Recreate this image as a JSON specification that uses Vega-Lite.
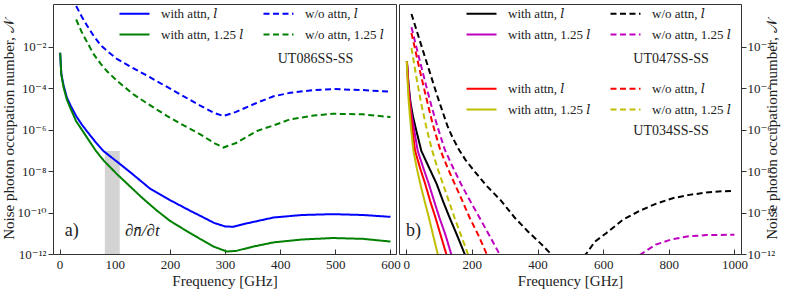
{
  "$schema": "https://vega.github.io/schema/vega-lite/v6.json",
  "padding": {"left": 0, "top": 3, "right": 3, "bottom": 2},
  "config": {
    "font": "Liberation Serif, DejaVu Serif, serif",
    "view": {"stroke": "#333", "strokeWidth": 1},
    "axis": {"domain": false, "grid": false, "labelFont": "Liberation Serif, DejaVu Serif, serif", "titleFont": "Liberation Serif, DejaVu Serif, serif", "labelFontSize": 13, "titleFontSize": 15, "titleFontWeight": "normal", "labelColor": "#222", "titleColor": "#222", "tickColor": "#333", "labelOverlap": false, "labelFlush": false},
    "legend": {"labelFont": "Liberation Serif, DejaVu Serif, serif", "labelFontSize": 13, "labelColor": "#222"},
    "text": {"font": "Liberation Serif, DejaVu Serif, serif"}
  },
  "datasets": {
    "curves": [
      {"g":"a","s":"A","f":1,"v":5.01e-3},{"g":"a","s":"A","f":3,"v":5.01e-4},{"g":"a","s":"A","f":7,"v":1.41e-4},{"g":"a","s":"A","f":13,"v":3.55e-5},{"g":"a","s":"A","f":20,"v":1.41e-5},{"g":"a","s":"A","f":30,"v":4.47e-6},{"g":"a","s":"A","f":40,"v":1.78e-6},{"g":"a","s":"A","f":50,"v":7.94e-7},{"g":"a","s":"A","f":65,"v":2.51e-7},{"g":"a","s":"A","f":80,"v":8.91e-8},{"g":"a","s":"A","f":104,"v":2.82e-8},{"g":"a","s":"A","f":130,"v":7.94e-9},{"g":"a","s":"A","f":164,"v":1.41e-9},{"g":"a","s":"A","f":200,"v":3.98e-10},{"g":"a","s":"A","f":237,"v":1.2e-10},{"g":"a","s":"A","f":255,"v":6.92e-11},{"g":"a","s":"A","f":280,"v":3.16e-11},{"g":"a","s":"A","f":300,"v":2.14e-11},{"g":"a","s":"A","f":315,"v":2.04e-11},{"g":"a","s":"A","f":340,"v":3.02e-11},{"g":"a","s":"A","f":388,"v":5.75e-11},{"g":"a","s":"A","f":440,"v":7.59e-11},{"g":"a","s":"A","f":496,"v":8.32e-11},{"g":"a","s":"A","f":550,"v":7.59e-11},{"g":"a","s":"A","f":600,"v":6.17e-11},
      {"g":"a","s":"C","f":1,"v":5.01e-3},{"g":"a","s":"C","f":3,"v":4.47e-4},{"g":"a","s":"C","f":7,"v":1.12e-4},{"g":"a","s":"C","f":13,"v":2.82e-5},{"g":"a","s":"C","f":20,"v":1e-5},{"g":"a","s":"C","f":30,"v":2.51e-6},{"g":"a","s":"C","f":40,"v":1e-6},{"g":"a","s":"C","f":50,"v":3.98e-7},{"g":"a","s":"C","f":65,"v":1e-7},{"g":"a","s":"C","f":80,"v":3.16e-8},{"g":"a","s":"C","f":104,"v":7.08e-9},{"g":"a","s":"C","f":130,"v":1.58e-9},{"g":"a","s":"C","f":150,"v":5.01e-10},{"g":"a","s":"C","f":176,"v":1.26e-10},{"g":"a","s":"C","f":200,"v":3.98e-11},{"g":"a","s":"C","f":237,"v":1e-11},{"g":"a","s":"C","f":255,"v":5.25e-12},{"g":"a","s":"C","f":280,"v":2.24e-12},{"g":"a","s":"C","f":303,"v":1.32e-12},{"g":"a","s":"C","f":320,"v":1.41e-12},{"g":"a","s":"C","f":350,"v":2.24e-12},{"g":"a","s":"C","f":388,"v":3.63e-12},{"g":"a","s":"C","f":440,"v":5.01e-12},{"g":"a","s":"C","f":496,"v":5.89e-12},{"g":"a","s":"C","f":550,"v":5.37e-12},{"g":"a","s":"C","f":600,"v":3.98e-12},
      {"g":"a","s":"B","f":30,"v":0.891},{"g":"a","s":"B","f":40,"v":0.282},{"g":"a","s":"B","f":50,"v":0.1},{"g":"a","s":"B","f":62,"v":3.16e-2},{"g":"a","s":"B","f":75,"v":1.12e-2},{"g":"a","s":"B","f":90,"v":5.01e-3},{"g":"a","s":"B","f":104,"v":2.51e-3},{"g":"a","s":"B","f":134,"v":8.91e-4},{"g":"a","s":"B","f":165,"v":3.16e-4},{"g":"a","s":"B","f":195,"v":1.12e-4},{"g":"a","s":"B","f":225,"v":3.98e-5},{"g":"a","s":"B","f":255,"v":1.41e-5},{"g":"a","s":"B","f":280,"v":6.31e-6},{"g":"a","s":"B","f":297,"v":4.47e-6},{"g":"a","s":"B","f":320,"v":7.08e-6},{"g":"a","s":"B","f":358,"v":1.95e-5},{"g":"a","s":"B","f":388,"v":3.98e-5},{"g":"a","s":"B","f":418,"v":5.89e-5},{"g":"a","s":"B","f":460,"v":7.94e-5},{"g":"a","s":"B","f":496,"v":8.91e-5},{"g":"a","s":"B","f":550,"v":7.94e-5},{"g":"a","s":"B","f":600,"v":6.61e-5},
      {"g":"a","s":"D","f":30,"v":0.2},{"g":"a","s":"D","f":40,"v":5.01e-2},{"g":"a","s":"D","f":50,"v":1.58e-2},{"g":"a","s":"D","f":62,"v":4.17e-3},{"g":"a","s":"D","f":75,"v":1.41e-3},{"g":"a","s":"D","f":86,"v":6.46e-4},{"g":"a","s":"D","f":104,"v":2.24e-4},{"g":"a","s":"D","f":134,"v":4.9e-5},{"g":"a","s":"D","f":165,"v":1.41e-5},{"g":"a","s":"D","f":195,"v":4.47e-6},{"g":"a","s":"D","f":225,"v":1.58e-6},{"g":"a","s":"D","f":255,"v":5.89e-7},{"g":"a","s":"D","f":280,"v":2.24e-7},{"g":"a","s":"D","f":297,"v":1.35e-7},{"g":"a","s":"D","f":320,"v":2.24e-7},{"g":"a","s":"D","f":358,"v":8.51e-7},{"g":"a","s":"D","f":388,"v":1.58e-6},{"g":"a","s":"D","f":418,"v":3.09e-6},{"g":"a","s":"D","f":460,"v":4.68e-6},{"g":"a","s":"D","f":496,"v":5.75e-6},{"g":"a","s":"D","f":550,"v":5.37e-6},{"g":"a","s":"D","f":600,"v":3.98e-6},

      {"g":"b047","s":"A","f":2,"v":2.0e-3},{"g":"b047","s":"A","f":7,"v":1.58e-4},{"g":"b047","s":"A","f":13,"v":2.0e-5},{"g":"b047","s":"A","f":21,"v":3.98e-6},{"g":"b047","s":"A","f":30,"v":1e-6},{"g":"b047","s":"A","f":46,"v":9.33e-8},{"g":"b047","s":"A","f":70,"v":1.41e-8},{"g":"b047","s":"A","f":93,"v":2.34e-9},{"g":"b047","s":"A","f":112,"v":3.55e-10},{"g":"b047","s":"A","f":132,"v":5.75e-11},{"g":"b047","s":"A","f":155,"v":7.94e-12},{"g":"b047","s":"A","f":178,"v":1e-12},{"g":"b047","s":"A","f":185,"v":5.01e-13},
      {"g":"b047","s":"C","f":2,"v":2.0e-3},{"g":"b047","s":"C","f":6,"v":2.0e-4},{"g":"b047","s":"C","f":11,"v":2.51e-5},{"g":"b047","s":"C","f":17,"v":4.47e-6},{"g":"b047","s":"C","f":24,"v":1e-6},{"g":"b047","s":"C","f":35,"v":9.33e-8},{"g":"b047","s":"C","f":52,"v":1.41e-8},{"g":"b047","s":"C","f":69,"v":2.34e-9},{"g":"b047","s":"C","f":85,"v":3.55e-10},{"g":"b047","s":"C","f":101,"v":5.75e-11},{"g":"b047","s":"C","f":120,"v":7.94e-12},{"g":"b047","s":"C","f":137,"v":1e-12},{"g":"b047","s":"C","f":143,"v":5.01e-13},
      {"g":"b047","s":"B","f":16,"v":0.372},{"g":"b047","s":"B","f":40,"v":2.24e-2},{"g":"b047","s":"B","f":70,"v":7.08e-4},{"g":"b047","s":"B","f":95,"v":3.98e-5},{"g":"b047","s":"B","f":110,"v":7.94e-6},{"g":"b047","s":"B","f":125,"v":1.58e-6},{"g":"b047","s":"B","f":140,"v":4.47e-7},{"g":"b047","s":"B","f":160,"v":1.12e-7},{"g":"b047","s":"B","f":180,"v":3.55e-8},{"g":"b047","s":"B","f":210,"v":8.91e-9},{"g":"b047","s":"B","f":244,"v":2.0e-9},{"g":"b047","s":"B","f":290,"v":3.55e-10},{"g":"b047","s":"B","f":330,"v":5.75e-11},{"g":"b047","s":"B","f":370,"v":1.26e-11},{"g":"b047","s":"B","f":410,"v":3.16e-12},{"g":"b047","s":"B","f":441,"v":1e-12},{"g":"b047","s":"B","f":495,"v":2.51e-13},{"g":"b047","s":"B","f":548,"v":1e-12},{"g":"b047","s":"B","f":575,"v":3.98e-12},{"g":"b047","s":"B","f":609,"v":1e-11},{"g":"b047","s":"B","f":660,"v":4.47e-11},{"g":"b047","s":"B","f":711,"v":1.2e-10},{"g":"b047","s":"B","f":762,"v":2.69e-10},{"g":"b047","s":"B","f":812,"v":4.9e-10},{"g":"b047","s":"B","f":863,"v":7.08e-10},{"g":"b047","s":"B","f":914,"v":9.12e-10},{"g":"b047","s":"B","f":960,"v":1.05e-9},{"g":"b047","s":"B","f":1000,"v":1.1e-9},
      {"g":"b047","s":"D","f":16,"v":8.51e-2},{"g":"b047","s":"D","f":40,"v":2.51e-3},{"g":"b047","s":"D","f":60,"v":1.41e-4},{"g":"b047","s":"D","f":80,"v":8.91e-6},{"g":"b047","s":"D","f":100,"v":7.94e-7},{"g":"b047","s":"D","f":117,"v":1.12e-7},{"g":"b047","s":"D","f":140,"v":1.78e-8},{"g":"b047","s":"D","f":167,"v":2.34e-9},{"g":"b047","s":"D","f":195,"v":3.55e-10},{"g":"b047","s":"D","f":223,"v":5.75e-11},{"g":"b047","s":"D","f":255,"v":7.08e-12},{"g":"b047","s":"D","f":284,"v":1e-12},{"g":"b047","s":"D","f":292,"v":5.01e-13},{"g":"b047","s":"D","f":500,"v":1e-14},{"g":"b047","s":"D","f":716,"v":1e-12},{"g":"b047","s":"D","f":760,"v":2.82e-12},{"g":"b047","s":"D","f":812,"v":5.25e-12},{"g":"b047","s":"D","f":860,"v":7.08e-12},{"g":"b047","s":"D","f":914,"v":8.13e-12},{"g":"b047","s":"D","f":1000,"v":8.51e-12},

      {"g":"b034","s":"A","f":2,"v":2.0e-3},{"g":"b034","s":"A","f":5,"v":2.24e-4},{"g":"b034","s":"A","f":9,"v":3.16e-5},{"g":"b034","s":"A","f":14,"v":5.01e-6},{"g":"b034","s":"A","f":19,"v":1e-6},{"g":"b034","s":"A","f":27,"v":9.33e-8},{"g":"b034","s":"A","f":42,"v":1.41e-8},{"g":"b034","s":"A","f":58,"v":2.34e-9},{"g":"b034","s":"A","f":73,"v":3.55e-10},{"g":"b034","s":"A","f":89,"v":5.75e-11},{"g":"b034","s":"A","f":105,"v":7.94e-12},{"g":"b034","s":"A","f":122,"v":1e-12},{"g":"b034","s":"A","f":128,"v":5.01e-13},
      {"g":"b034","s":"C","f":1.5,"v":2.0e-3},{"g":"b034","s":"C","f":4,"v":2.51e-4},{"g":"b034","s":"C","f":7,"v":3.16e-5},{"g":"b034","s":"C","f":11,"v":5.01e-6},{"g":"b034","s":"C","f":15,"v":1e-6},{"g":"b034","s":"C","f":22,"v":9.33e-8},{"g":"b034","s":"C","f":32,"v":1.41e-8},{"g":"b034","s":"C","f":43,"v":2.34e-9},{"g":"b034","s":"C","f":56,"v":3.55e-10},{"g":"b034","s":"C","f":69,"v":5.75e-11},{"g":"b034","s":"C","f":82,"v":7.94e-12},{"g":"b034","s":"C","f":96,"v":1e-12},{"g":"b034","s":"C","f":100,"v":5.01e-13},
      {"g":"b034","s":"B","f":16,"v":4.47e-2},{"g":"b034","s":"B","f":40,"v":8.91e-4},{"g":"b034","s":"B","f":60,"v":3.98e-5},{"g":"b034","s":"B","f":80,"v":2.0e-6},{"g":"b034","s":"B","f":103,"v":1.12e-7},{"g":"b034","s":"B","f":125,"v":1.58e-8},{"g":"b034","s":"B","f":147,"v":2.51e-9},{"g":"b034","s":"B","f":170,"v":3.98e-10},{"g":"b034","s":"B","f":193,"v":5.75e-11},{"g":"b034","s":"B","f":220,"v":7.94e-12},{"g":"b034","s":"B","f":245,"v":1e-12},{"g":"b034","s":"B","f":252,"v":5.01e-13},
      {"g":"b034","s":"D","f":16,"v":8.51e-3},{"g":"b034","s":"D","f":30,"v":3.98e-4},{"g":"b034","s":"D","f":45,"v":2.0e-5},{"g":"b034","s":"D","f":60,"v":1.58e-6},{"g":"b034","s":"D","f":78,"v":1.12e-7},{"g":"b034","s":"D","f":95,"v":1.41e-8},{"g":"b034","s":"D","f":112,"v":2.34e-9},{"g":"b034","s":"D","f":130,"v":3.55e-10},{"g":"b034","s":"D","f":147,"v":5.75e-11},{"g":"b034","s":"D","f":167,"v":7.94e-12},{"g":"b034","s":"D","f":188,"v":1e-12},{"g":"b034","s":"D","f":195,"v":5.01e-13}
    ],
    "notes": [
      {"g":"a","t":"UT086SS-SS","f":464,"v":2.45e-3,"k":"c"},
      {"g":"a","t":"a)","f":22,"v":1.3e-11,"k":"big"},
      {"g":"a","t":"∂n̄/∂t","f":150,"v":1.3e-11,"k":"it"},
      {"g":"b","t":"UT047SS-SS","f":807,"v":2.45e-3,"k":"c"},
      {"g":"b","t":"UT034SS-SS","f":807,"v":8.5e-7,"k":"c"},
      {"g":"b","t":"b)","f":22,"v":1.3e-11,"k":"big"}
    ],
    "band": [{"f1":82,"f2":109,"lo":1e-12,"hi":9.3e-8}]
  },
  "hconcat": [
    {
      "width": 343, "height": 250,
      "layer": [
        {
          "data": {"name": "band"},
          "mark": {"type": "rect", "color": "#d3d3d3"},
          "encoding": {
            "x": {"field": "f1", "type": "quantitative", "scale": {"domain": [-12, 610], "nice": false, "zero": false}},
            "x2": {"field": "f2"},
            "y": {"field": "lo", "type": "quantitative", "scale": {"type": "log", "domain": [1e-12, 1.12], "nice": false}},
            "y2": {"field": "hi"}
          }
        },
        {
          "data": {"name": "curves"},
          "transform": [{"filter": "datum.g == 'a'"}],
          "mark": {"type": "line", "clip": true, "strokeWidth": 2},
          "encoding": {
            "x": {"field": "f", "type": "quantitative", "scale": {"domain": [-12, 610], "nice": false, "zero": false},
                  "axis": {"title": "Frequency [GHz]", "values": [0,100,200,300,400,500,600], "format": "d", "tickSize": -5, "labelPadding": 9, "titlePadding": 2}},
            "y": {"field": "v", "type": "quantitative", "scale": {"type": "log", "domain": [1e-12, 1.12], "nice": false},
                  "axis": {"title": "Noise photon occupation number, 𝒩", "values": [1e-12,1e-10,1e-8,1e-6,1e-4,1e-2], "tickSize": 5, "labelPadding": 2, "titlePadding": 1,
                           "labelExpr": "datum.value < 1e-11 ? '10⁻¹²' : datum.value < 1e-9 ? '10⁻¹⁰' : datum.value < 1e-7 ? '10⁻⁸' : datum.value < 1e-5 ? '10⁻⁶' : datum.value < 1e-3 ? '10⁻⁴' : '10⁻²'"}},
            "color": {"field": "s", "type": "nominal", "scale": {"domain": ["A","C","B","D"], "range": ["#0000ff","#008000","#0000ff","#008000"]},
                      "legend": {"orient": "none", "legendX": 75, "legendY": 3, "columns": 2, "title": null, "padding": 0, "symbolType": "M-3,0H3", "symbolSize": 100, "symbolStrokeWidth": 2, "labelOffset": 20, "columnPadding": 15, "rowPadding": 7,
                                 "labelExpr": "datum.label == 'A' ? 'with attn, 𝑙' : datum.label == 'B' ? 'w/o attn, 𝑙' : datum.label == 'C' ? 'with attn, 1.25 𝑙' : 'w/o attn, 1.25 𝑙'"}},
            "strokeDash": {"field": "s", "type": "nominal", "scale": {"domain": ["A","C","B","D"], "range": [[1,0],[1,0],[6,3.5],[6,3.5]]},
                      "legend": {"orient": "none", "legendX": 75, "legendY": 3, "columns": 2, "title": null, "padding": 0, "symbolType": "M-3,0H3", "symbolSize": 100, "symbolStrokeWidth": 2, "labelOffset": 20, "columnPadding": 15, "rowPadding": 7,
                                 "labelExpr": "datum.label == 'A' ? 'with attn, 𝑙' : datum.label == 'B' ? 'w/o attn, 𝑙' : datum.label == 'C' ? 'with attn, 1.25 𝑙' : 'w/o attn, 1.25 𝑙'"}}
          }
        },
        {
          "data": {"name": "notes"},
          "transform": [{"filter": "datum.g == 'a' && datum.k != 'it'"}],
          "mark": {"type": "text", "align": "center", "baseline": "middle", "color": "#222"},
          "encoding": {
            "x": {"field": "f", "type": "quantitative"},
            "y": {"field": "v", "type": "quantitative"},
            "text": {"field": "t"},
            "size": {"condition": {"test": "datum.k == 'big'", "value": 18}, "value": 14}
          }
        },
        {
          "data": {"name": "notes"},
          "transform": [{"filter": "datum.g == 'a' && datum.k == 'it'"}],
          "mark": {"type": "text", "align": "center", "baseline": "middle", "color": "#222", "fontStyle": "italic", "fontSize": 17},
          "encoding": {
            "x": {"field": "f", "type": "quantitative"},
            "y": {"field": "v", "type": "quantitative"},
            "text": {"field": "t"}
          }
        }
      ]
    },
    {
      "width": 342, "height": 250,
      "layer": [
        {
          "data": {"name": "curves"},
          "transform": [{"filter": "datum.g == 'b047'"}],
          "mark": {"type": "line", "clip": true, "strokeWidth": 2},
          "encoding": {
            "x": {"field": "f", "type": "quantitative", "scale": {"domain": [-22, 1020], "nice": false, "zero": false},
                  "axis": {"title": "Frequency [GHz]", "values": [0,200,400,600,800,1000], "format": "d", "tickSize": -5, "labelPadding": 9, "titlePadding": 2}},
            "y": {"field": "v", "type": "quantitative", "scale": {"type": "log", "domain": [1e-12, 1.12], "nice": false},
                  "axis": {"orient": "right", "title": "Noise photon occupation number, 𝒩", "titleAngle": -90, "values": [1e-12,1e-10,1e-8,1e-6,1e-4,1e-2], "tickSize": 5, "labelPadding": 1, "titlePadding": 4,
                           "labelExpr": "datum.value < 1e-11 ? '10⁻¹²' : datum.value < 1e-9 ? '10⁻¹⁰' : datum.value < 1e-7 ? '10⁻⁸' : datum.value < 1e-5 ? '10⁻⁶' : datum.value < 1e-3 ? '10⁻⁴' : '10⁻²'"}},
            "color": {"field": "s", "type": "nominal", "scale": {"domain": ["A","C","B","D"], "range": ["#000000","#bf00bf","#000000","#bf00bf"]},
                      "legend": {"orient": "none", "legendX": 76, "legendY": 3, "columns": 2, "title": null, "padding": 0, "symbolType": "M-3,0H3", "symbolSize": 100, "symbolStrokeWidth": 2, "labelOffset": 20, "columnPadding": 15, "rowPadding": 7,
                                 "labelExpr": "datum.label == 'A' ? 'with attn, 𝑙' : datum.label == 'B' ? 'w/o attn, 𝑙' : datum.label == 'C' ? 'with attn, 1.25 𝑙' : 'w/o attn, 1.25 𝑙'"}},
            "strokeDash": {"field": "s", "type": "nominal", "scale": {"domain": ["A","C","B","D"], "range": [[1,0],[1,0],[6,3.5],[6,3.5]]},
                      "legend": {"orient": "none", "legendX": 76, "legendY": 3, "columns": 2, "title": null, "padding": 0, "symbolType": "M-3,0H3", "symbolSize": 100, "symbolStrokeWidth": 2, "labelOffset": 20, "columnPadding": 15, "rowPadding": 7,
                                 "labelExpr": "datum.label == 'A' ? 'with attn, 𝑙' : datum.label == 'B' ? 'w/o attn, 𝑙' : datum.label == 'C' ? 'with attn, 1.25 𝑙' : 'w/o attn, 1.25 𝑙'"}}
          }
        },
        {
          "data": {"name": "curves"},
          "transform": [{"filter": "datum.g == 'b034'"}],
          "mark": {"type": "line", "clip": true, "strokeWidth": 2},
          "encoding": {
            "x": {"field": "f", "type": "quantitative"},
            "y": {"field": "v", "type": "quantitative"},
            "color": {"field": "s", "type": "nominal", "scale": {"domain": ["A","C","B","D"], "range": ["#ff0000","#bfbf00","#ff0000","#bfbf00"]},
                      "legend": {"orient": "none", "legendX": 76, "legendY": 78, "columns": 2, "title": null, "padding": 0, "symbolType": "M-3,0H3", "symbolSize": 100, "symbolStrokeWidth": 2, "labelOffset": 20, "columnPadding": 15, "rowPadding": 7,
                                 "labelExpr": "datum.label == 'A' ? 'with attn, 𝑙' : datum.label == 'B' ? 'w/o attn, 𝑙' : datum.label == 'C' ? 'with attn, 1.25 𝑙' : 'w/o attn, 1.25 𝑙'"}},
            "strokeDash": {"field": "s", "type": "nominal", "scale": {"domain": ["A","C","B","D"], "range": [[1,0],[1,0],[6,3.5],[6,3.5]]},
                      "legend": {"orient": "none", "legendX": 76, "legendY": 78, "columns": 2, "title": null, "padding": 0, "symbolType": "M-3,0H3", "symbolSize": 100, "symbolStrokeWidth": 2, "labelOffset": 20, "columnPadding": 15, "rowPadding": 7,
                                 "labelExpr": "datum.label == 'A' ? 'with attn, 𝑙' : datum.label == 'B' ? 'w/o attn, 𝑙' : datum.label == 'C' ? 'with attn, 1.25 𝑙' : 'w/o attn, 1.25 𝑙'"}}
          }
        },
        {
          "data": {"name": "notes"},
          "transform": [{"filter": "datum.g == 'b'"}],
          "mark": {"type": "text", "align": "center", "baseline": "middle", "color": "#222"},
          "encoding": {
            "x": {"field": "f", "type": "quantitative"},
            "y": {"field": "v", "type": "quantitative"},
            "text": {"field": "t"},
            "size": {"condition": {"test": "datum.k == 'big'", "value": 18}, "value": 14}
          }
        }
      ],
      "resolve": {"scale": {"color": "independent", "strokeDash": "independent"}}
    }
  ],
  "spacing": 3,
  "bounds": "flush",
  "resolve": {"scale": {"color": "independent", "strokeDash": "independent"}}
}
